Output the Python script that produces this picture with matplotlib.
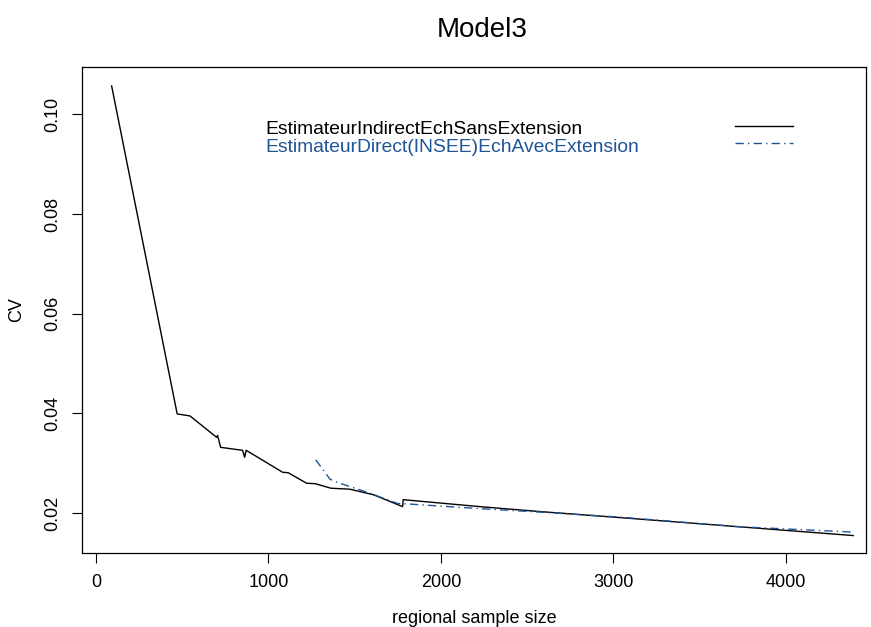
import matplotlib
matplotlib.use('Agg')
import matplotlib.pyplot as plt
from matplotlib.lines import Line2D

plt.rcParams['font.family'] = ['Liberation Sans', 'DejaVu Sans']

# regional sample size vs CV
indirect_n = [91, 471, 545, 700, 705, 723, 850, 862, 871, 1082, 1115, 1221,
              1272, 1362, 1472, 1608, 1778, 1781, 2226, 2577, 3038, 3714, 4390]
indirect_cv = [0.1057, 0.0399, 0.0395, 0.0352, 0.0356, 0.0332, 0.0326, 0.0312,
               0.0326, 0.0282, 0.0281, 0.0260, 0.0259, 0.0250, 0.0248, 0.0237,
               0.0213, 0.0227, 0.0213, 0.0203, 0.0191, 0.0173, 0.0155]

direct_n = [1274, 1357, 1405, 1588, 1752, 1781, 2226, 2577, 3038, 3714, 4381]
direct_cv = [0.0307, 0.0268, 0.0261, 0.0240, 0.0219, 0.0219, 0.0209, 0.0202,
             0.0192, 0.0173, 0.0162]

labels = ['EstimateurIndirectEchSansExtension',
          'EstimateurDirect(INSEE)EchAvecExtension']
colors = ['black', '#1f5597']
styles = ['-', (0, (6, 3, 1, 3))]

W, H = 871, 627
fig = plt.figure(figsize=(W / 100, H / 100), dpi=100)
ax = fig.add_axes([82.3 / W, 1 - 553 / H, (866 - 82.3) / W, (553 - 67) / H])

ax.plot(indirect_n, indirect_cv, color=colors[0], ls=styles[0], lw=1.0)
ax.plot(direct_n, direct_cv, color=colors[1], ls=styles[1], lw=1.0)

ax.set_xlim(-79, 4464)
ax.set_ylim(0.0120, 0.1095)
ax.set_xticks([0, 1000, 2000, 3000, 4000])
ax.set_yticks([0.02, 0.04, 0.06, 0.08, 0.10])
ax.set_yticklabels(['0.02', '0.04', '0.06', '0.08', '0.10'], rotation=90, va='center')
ax.tick_params(direction='out', length=7, width=0.8, labelsize=13, pad=8)
for s in ax.spines.values():
    s.set_linewidth(0.9)

ax.set_xlabel('regional sample size', fontsize=13, labelpad=14)
ax.set_ylabel('CV', fontsize=13, labelpad=14)
fig.text(482 / W, 1 - 30 / H, 'Model3', fontsize=20, ha='center', va='center')

# legend drawn by hand, R style: text left-aligned, samples on the right
for i, (lab, col, st) in enumerate(zip(labels, colors, styles)):
    yy = 1 - (130 + 17 * i) / H
    fig.text(265 / W, yy, lab, color=col, fontsize=13.9, ha='left', va='center')
    fig.add_artist(Line2D([735 / W, 793 / W], [yy + 4 / H, yy + 4 / H],
                          color=col, ls=st, lw=1.0, transform=fig.transFigure))

fig.savefig('out.png', dpi=100)
